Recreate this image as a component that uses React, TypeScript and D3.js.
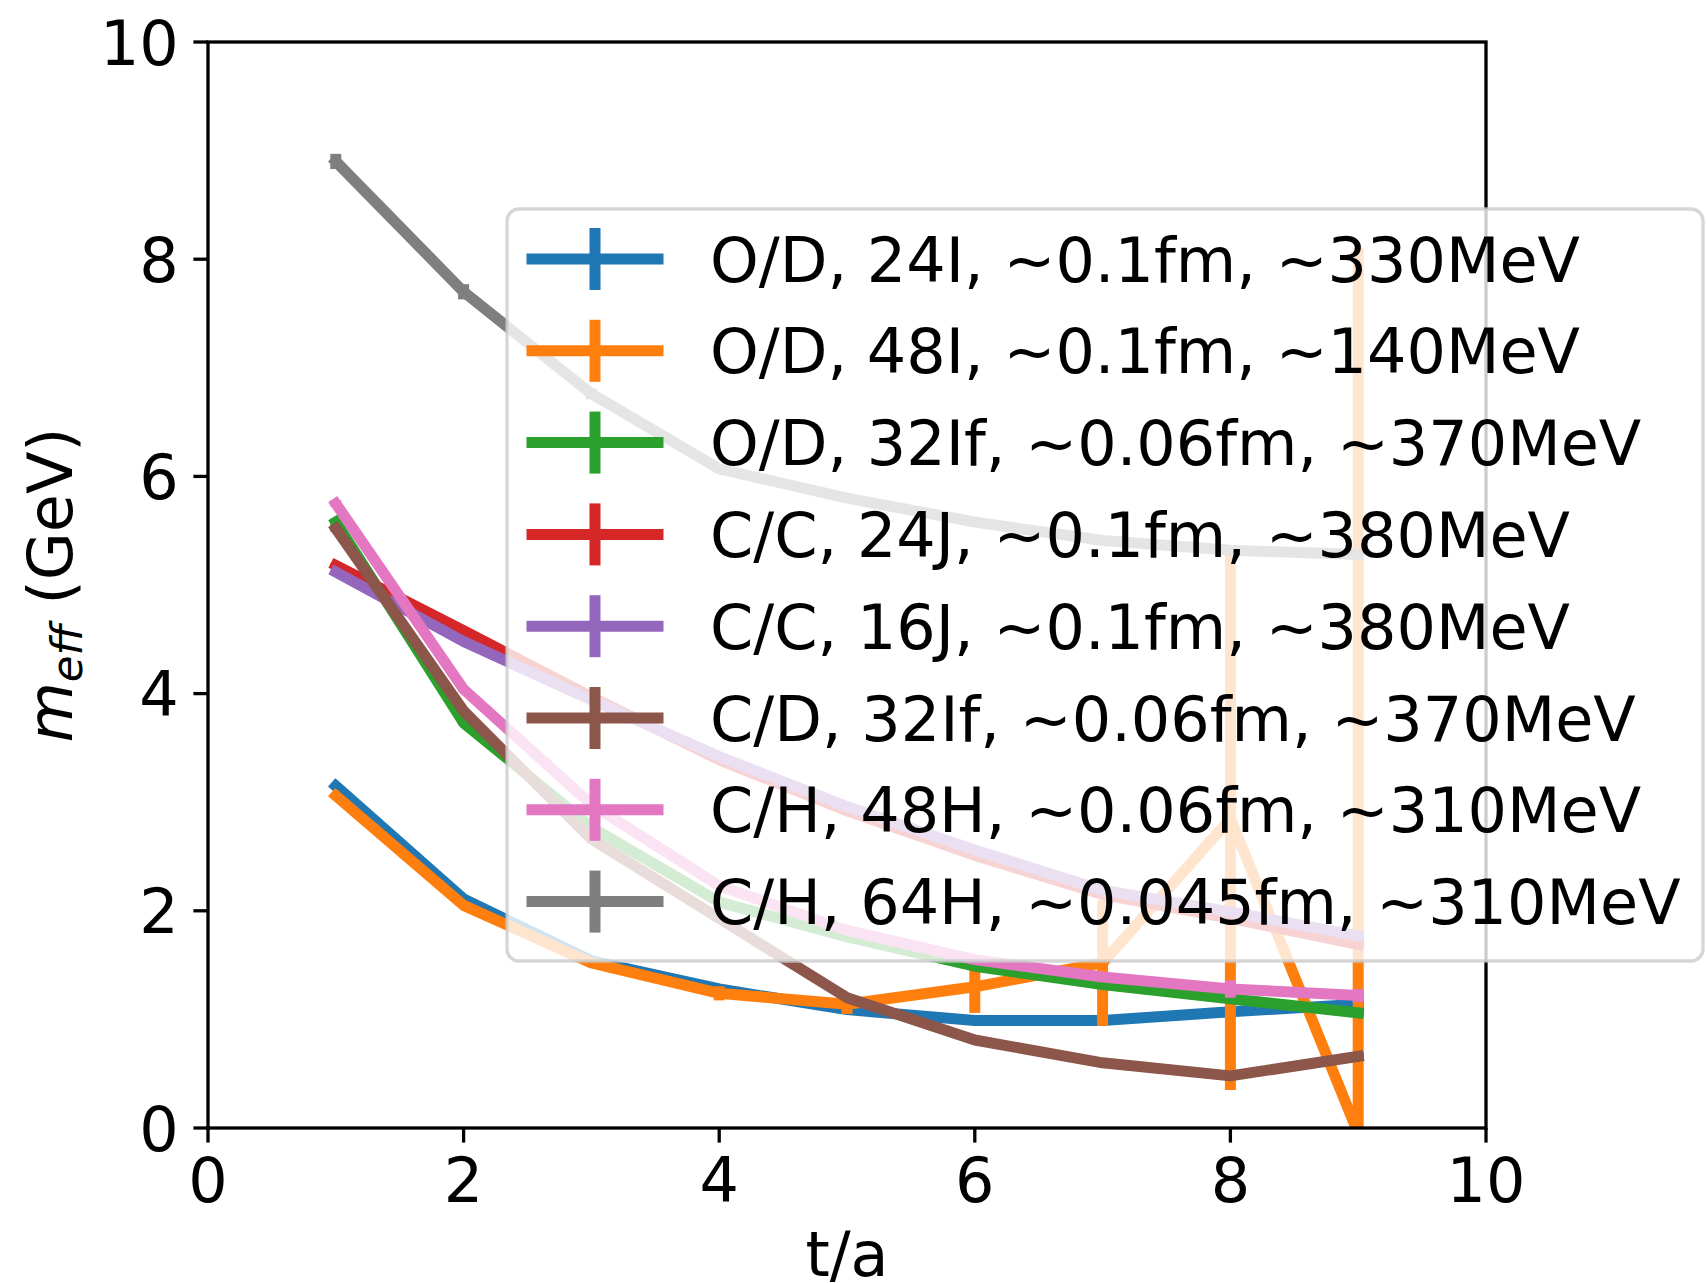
import React from "react";
import * as d3 from "d3";

// Effective mass vs. Euclidean time separation for several ensembles
const steps = [1, 2, 3, 4, 5, 6, 7, 8, 9];

const seriesLabels = [
  "O/D, 24I, \u223C0.1fm, \u223C330MeV",
  "O/D, 48I, \u223C0.1fm, \u223C140MeV",
  "O/D, 32If, \u223C0.06fm, \u223C370MeV",
  "C/C, 24J, \u223C0.1fm, \u223C380MeV",
  "C/C, 16J, \u223C0.1fm, \u223C380MeV",
  "C/D, 32If, \u223C0.06fm, \u223C370MeV",
  "C/H, 48H, \u223C0.06fm, \u223C310MeV",
  "C/H, 64H, \u223C0.045fm, \u223C310MeV",
];

const seriesColors = ["#1f77b4", "#ff7f0e", "#2ca02c", "#d62728", "#9467bd", "#8c564b", "#e377c2", "#7f7f7f"];

const od24I = [3.15, 2.11, 1.54, 1.28, 1.09, 0.99, 0.99, 1.07, 1.14];
const od24IErr = [0.02, 0.02, 0.02, 0.02, 0.03, 0.03, 0.04, 0.05, 0.06];

const od48I = [3.06, 2.05, 1.52, 1.24, 1.14, 1.3, 1.52, 2.85, -0.05];
const od48IErr = [0.02, 0.02, 0.03, 0.065, 0.09, 0.24, 0.58, 2.5, 8.15];

const od32If = [5.58, 3.73, 2.77, 2.08, 1.76, 1.49, 1.32, 1.19, 1.06];
const od32IfErr = [0.03, 0.02, 0.02, 0.02, 0.02, 0.02, 0.03, 0.03, 0.04];

const cc24J = [5.18, 4.58, 3.97, 3.39, 2.92, 2.51, 2.15, 1.93, 1.69];
const cc24JErr = [0.02, 0.02, 0.02, 0.02, 0.02, 0.02, 0.02, 0.03, 0.03];

const cc16J = [5.12, 4.48, 3.94, 3.42, 2.96, 2.56, 2.19, 1.99, 1.77];
const cc16JErr = [0.02, 0.02, 0.02, 0.02, 0.02, 0.02, 0.03, 0.03, 0.04];

const cd32If = [5.52, 3.84, 2.66, 1.93, 1.2, 0.81, 0.6, 0.48, 0.66];
const cd32IfErr = [0.03, 0.02, 0.02, 0.02, 0.02, 0.02, 0.03, 0.03, 0.04];

const ch48H = [5.75, 4.04, 2.98, 2.23, 1.82, 1.55, 1.39, 1.28, 1.22];
const ch48HErr = [0.03, 0.02, 0.02, 0.02, 0.03, 0.03, 0.04, 0.08, 0.06];

const ch64H = [8.9, 7.7, 6.76, 6.07, 5.8, 5.58, 5.41, 5.32, 5.28];
const ch64HErr = [0.07, 0.07, 0.05, 0.04, 0.04, 0.04, 0.04, 0.04, 0.04];

const xTicks = [0, 2, 4, 6, 8, 10];
const yTicks = [0, 2, 4, 6, 8, 10];

const seriesValues = [od24I, od48I, od32If, cc24J, cc16J, cd32If, ch48H, ch64H];
const seriesErrors = [od24IErr, od48IErr, od32IfErr, cc24JErr, cc16JErr, cd32IfErr, ch48HErr, ch64HErr];

const W = 1706;
const H = 1283;
const M = { left: 208, right: 1486, top: 42, bottom: 1128 };
const FONT = "'DejaVu Sans', sans-serif";
const FS = 62;
const LW = 11;
const SPINE = 3.3;
const TICK = 14.6;

export default function App() {
  const x = d3.scaleLinear().domain([0, 10]).range([M.left, M.right]);
  const y = d3.scaleLinear().domain([0, 10]).range([M.bottom, M.top]);

  const line = d3
    .line<number>()
    .x((_, i) => x(steps[i]))
    .y((v) => y(v));

  const series = seriesLabels.map((label, k) => ({
    label,
    color: seriesColors[k],
    values: seriesValues[k],
    errors: seriesErrors[k],
  }));

  // legend geometry
  const leg = { left: 507, top: 209, right: 1703, bottom: 961 };
  const rowY0 = 259;
  const rowStep = 91.8;
  const handleX0 = 527;
  const handleX1 = 663;
  const textX = 710;

  return (
    <svg
      width={W}
      height={H}
      viewBox={`0 0 ${W} ${H}`}
      style={{ position: "absolute", left: 0, top: 0, background: "#fff" }}
      fontFamily={FONT}
    >
      <defs>
        <clipPath id="plot-area">
          <rect x={M.left} y={M.top} width={M.right - M.left} height={M.bottom - M.top} />
        </clipPath>
      </defs>
      <rect x={0} y={0} width={W} height={H} fill="#fff" />

      {/* data lines with vertical error bars */}
      <g clipPath="url(#plot-area)">
        {series.map((s) => (
          <g key={s.label}>
            <path
              d={line(s.values) || ""}
              fill="none"
              stroke={s.color}
              strokeWidth={LW}
              strokeLinejoin="round"
              strokeLinecap="square"
            />
            {s.values.map((v, i) => (
              <line
                key={i}
                x1={x(steps[i])}
                x2={x(steps[i])}
                y1={y(v - s.errors[i])}
                y2={y(v + s.errors[i])}
                stroke={s.color}
                strokeWidth={LW}
              />
            ))}
          </g>
        ))}
      </g>

      {/* spines */}
      <rect
        x={M.left}
        y={M.top}
        width={M.right - M.left}
        height={M.bottom - M.top}
        fill="none"
        stroke="#000"
        strokeWidth={SPINE}
      />

      {/* x ticks */}
      {xTicks.map((t) => (
        <g key={`x${t}`}>
          <line x1={x(t)} x2={x(t)} y1={M.bottom} y2={M.bottom + TICK} stroke="#000" strokeWidth={SPINE} />
          <text x={x(t)} y={M.bottom + TICK + 14.6 + 45} textAnchor="middle" fontSize={FS}>
            {t}
          </text>
        </g>
      ))}

      {/* y ticks */}
      {yTicks.map((t) => (
        <g key={`y${t}`}>
          <line x1={M.left - TICK} x2={M.left} y1={y(t)} y2={y(t)} stroke="#000" strokeWidth={SPINE} />
          <text x={M.left - TICK - 14.6} y={y(t) + 22.5} textAnchor="end" fontSize={FS}>
            {t}
          </text>
        </g>
      ))}

      {/* axis titles */}
      <text x={(M.left + M.right) / 2} y={1276} textAnchor="middle" fontSize={FS}>
        t/a
      </text>
      <text
        transform={`translate(72, ${(M.top + M.bottom) / 2}) rotate(-90)`}
        textAnchor="middle"
        fontSize={FS}
      >
        <tspan fontStyle="italic">m</tspan>
        <tspan fontStyle="italic" fontSize={FS * 0.7} dy={10}>
          eff
        </tspan>
        <tspan dy={-10}> (GeV)</tspan>
      </text>

      {/* legend */}
      <g>
        <rect
          x={leg.left}
          y={leg.top}
          width={leg.right - leg.left}
          height={leg.bottom - leg.top}
          rx={12}
          ry={12}
          fill="#fff"
          fillOpacity={0.8}
          stroke="#cccccc"
          strokeOpacity={0.8}
          strokeWidth={SPINE}
        />
        {series.map((s, k) => {
          const cy = rowY0 + k * rowStep;
          const cx = (handleX0 + handleX1) / 2;
          return (
            <g key={`leg${k}`}>
              <line x1={handleX0 + 5} x2={handleX1 - 5} y1={cy} y2={cy} stroke={s.color} strokeWidth={LW} strokeLinecap="square" />
              <line x1={cx} x2={cx} y1={cy - 31} y2={cy + 31} stroke={s.color} strokeWidth={LW} />
              <text x={textX} y={cy + 22.6} fontSize={FS}>
                {s.label}
              </text>
            </g>
          );
        })}
      </g>
    </svg>
  );
}
